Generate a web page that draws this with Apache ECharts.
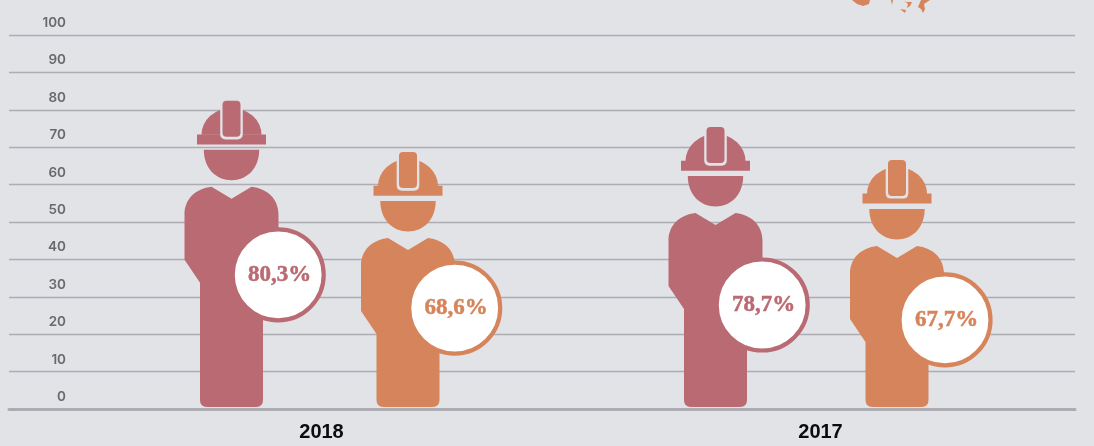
<!DOCTYPE html>
<html><head><meta charset="utf-8">
<style>html,body{margin:0;padding:0;background:#e2e3e7}#c{width:1094px;height:446px}</style>
<script src="https://cdn.jsdelivr.net/npm/echarts@6/dist/echarts.min.js"></script>
</head><body><div id="c"></div>
<script>
const years = ['2018', '2017'];
const yTicks = [0, 10, 20, 30, 40, 50, 60, 70, 80, 90, 100];
const redValues = [80.3, 78.7];
const orangeValues = [68.6, 67.7];
const redFigureTops = [82.4, 75.4];
const orangeFigureTops = [68.7, 66.6];

const RED = '#b96a73', ORANGE = '#d6845b', BG = '#e2e3e7', GRID = '#adacb2';
const layout = {
  red: { dx: [-90, -105], badge: [174, 178], badgeX: [46.7, 46.7] },
  orange: { dx: [86.5, 76.5], badge: [156, 160], badgeX: [46.7, 48] }
};

function personRender(color, key, labels) {
  return function (params, api) {
    const i = api.value(0);
    const base = api.coord([i, 0]);
    const top = api.coord([i, api.value(1)]);
    const c = base[0] + layout[key].dx[i];
    const t = top[1];
    const b = base[1] - 2;
    const body =
      `M${c - 20} ${t + 86} L${c} ${t + 98} L${c + 20} ${t + 86} ` +
      `C${c + 36} ${t + 88} ${c + 47} ${t + 98} ${c + 47} ${t + 114} ` +
      `L${c + 47} ${t + 159} L${c + 31.5} ${t + 182} L${c + 31.5} ${b - 7} ` +
      `Q${c + 31.5} ${b} ${c + 24.5} ${b} L${c - 24.5} ${b} Q${c - 31.5} ${b} ${c - 31.5} ${b - 7} ` +
      `L${c - 31.5} ${t + 182} L${c - 47} ${t + 159} L${c - 47} ${t + 114} ` +
      `C${c - 47} ${t + 98} ${c - 36} ${t + 88} ${c - 20} ${t + 86} Z`;
    const head =
      `M${c - 27.7} ${t + 49} L${c + 27.7} ${t + 49} ` +
      `C${c + 27.7} ${t + 68} ${c + 15} ${t + 79.5} ${c} ${t + 79.5} ` +
      `C${c - 15} ${t + 79.5} ${c - 27.7} ${t + 68} ${c - 27.7} ${t + 49} Z`;
    const dome = `M${c - 30} ${t + 34} A30 27 0 0 1 ${c + 30} ${t + 34} Z`;
    const bx = c + layout[key].badgeX[i], by = t + layout[key].badge[i];
    return {
      type: 'group',
      children: [
        { type: 'path', shape: { pathData: body }, style: { fill: color } },
        { type: 'path', shape: { pathData: head }, style: { fill: color } },
        { type: 'path', shape: { pathData: dome }, style: { fill: color } },
        { type: 'rect', shape: { x: c - 34.5, y: t + 33.7, width: 69, height: 10 }, style: { fill: color } },
        { type: 'rect', shape: { x: c - 11.3, y: t + 8, width: 22.6, height: 30.7, r: [0, 0, 5, 5] }, style: { fill: BG } },
        { type: 'rect', shape: { x: c - 9, y: t, width: 18, height: 36, r: 4 }, style: { fill: color } },
        { type: 'circle', shape: { cx: bx, cy: by, r: 45.5 }, style: { fill: '#fff', stroke: color, lineWidth: 4.2 } },
        { type: 'text', x: bx + 1.5, y: by + 0.5, style: {
            text: labels[i].toFixed(1).replace('.', ',') + '%',
            fill: color, stroke: color, lineWidth: 0.5, font: 'bold 23px "Liberation Serif", serif',
            align: 'center', verticalAlign: 'middle' } }
      ]
    };
  };
}

const chart = echarts.init(document.getElementById('c'), null, { renderer: 'canvas' });
chart.setOption({
  animation: false,
  backgroundColor: BG,
  grid: [
    { left: 72, right: 24, top: 35, bottom: 37 },
    { left: 9, right: 19, top: 35, bottom: 37 }
  ],
  xAxis: [
    { type: 'category', gridIndex: 0, data: years,
      axisLine: { show: false }, axisTick: { show: false },
      axisLabel: { color: '#0c0c0e', fontFamily: 'Liberation Sans', fontWeight: 'bold', fontSize: 20, margin: 13 } },
    { type: 'category', gridIndex: 1, data: years,
      axisLine: { show: true, lineStyle: { color: GRID, width: 3 } },
      axisTick: { show: false }, axisLabel: { show: false } }
  ],
  yAxis: [
    { type: 'value', gridIndex: 0, min: yTicks[0], max: yTicks[yTicks.length - 1], interval: 10,
      axisLine: { show: false }, axisTick: { show: false }, splitLine: { show: false },
      axisLabel: { color: '#69686c', fontFamily: 'Inter', fontWeight: 600, fontSize: 13.5, margin: 6,
        verticalAlign: 'bottom', padding: [0, 0, 5, 0] } },
    { type: 'value', gridIndex: 1, min: yTicks[0], max: yTicks[yTicks.length - 1], interval: 10,
      axisLine: { show: false }, axisTick: { show: false }, axisLabel: { show: false },
      splitLine: { show: true, lineStyle: { color: GRID, width: 1.4 } } }
  ],
  series: [
    { type: 'custom', name: 'Red', xAxisIndex: 0, yAxisIndex: 0, clip: false,
      data: years.map((y, i) => [i, redFigureTops[i]]),
      encode: { x: 0, y: 1 }, renderItem: personRender(RED, 'red', redValues) },
    { type: 'custom', name: 'Orange', xAxisIndex: 0, yAxisIndex: 0, clip: false,
      data: years.map((y, i) => [i, orangeFigureTops[i]]),
      encode: { x: 0, y: 1 }, renderItem: personRender(ORANGE, 'orange', orangeValues) }
  ],
  graphic: [
    { type: 'polygon', shape: { points: [[852,0],[870,0],[869,4],[863,6],[857,4]] }, style: { fill: ORANGE } },
    { type: 'polygon', shape: { points: [[891,0],[893,0],[892,5]] }, style: { fill: ORANGE } },
    { type: 'polygon', shape: { points: [[900,9],[906,10],[905,13]] }, style: { fill: ORANGE } },
    { type: 'polygon', shape: { points: [[903,0],[906,2],[912,2],[910,6],[907,8],[908,4]] }, style: { fill: ORANGE } },
    { type: 'polygon', shape: { points: [[921,0],[930,0],[924,4],[925,9],[923,13],[921,9],[918,7]] }, style: { fill: ORANGE } }
  ]
});
</script></body></html>
